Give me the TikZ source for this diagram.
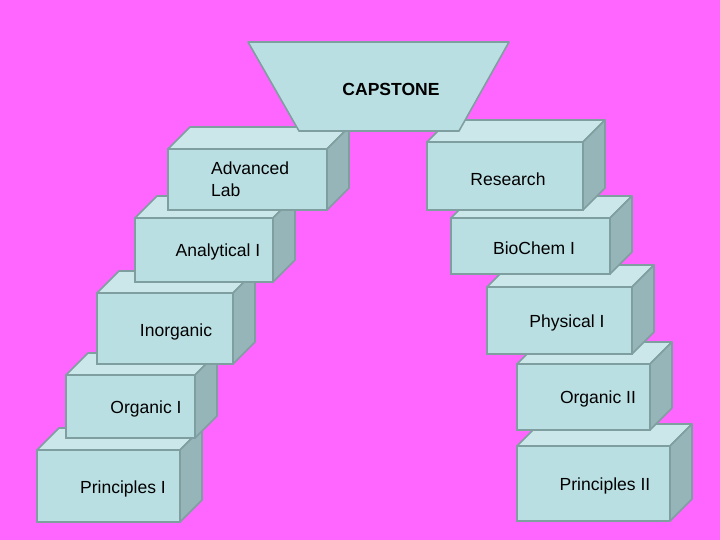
\documentclass[tikz,border=0pt]{standalone}
\usepackage{fontspec}
\setmainfont{Liberation Sans}
\definecolor{bg}{HTML}{FF66FF}
\definecolor{frontc}{HTML}{BADFE3}
\definecolor{topc}{HTML}{CCE7EA}
\definecolor{sidec}{HTML}{95B5B8}
\definecolor{edgec}{HTML}{7E9EA0}
\newcommand\dd{22}
\newcommand\cubebox[5]{%
  \node[frontbox, minimum width=#4bp, minimum height=#5bp, anchor=north west] (#1) at (#2,#3) {};
  \filldraw[topface] (#1.north west) -- ++(\dd,-\dd) -- ++(#4,0) -- (#1.north east) -- cycle;
  \filldraw[sideface] (#1.north east) -- ++(\dd,-\dd) -- ++(0,#5) -- (#1.south east) -- cycle;
  \draw[edgeline] (#1.south west) rectangle (#1.north east);
}
\begin{document}
\begin{tikzpicture}[x=1bp, y=-1bp,
  frontbox/.style={fill=frontc, draw=edgec, line width=1.6bp, inner sep=0pt, outer sep=0pt},
  topface/.style={fill=topc, draw=edgec, line width=1.6bp, line join=round},
  sideface/.style={fill=sidec, draw=edgec, line width=1.6bp, line join=round},
  edgeline/.style={draw=edgec, line width=1.6bp},
  lbl/.style={font=\fontsize{17.6}{22}\selectfont, inner sep=0pt, text=black}]
\useasboundingbox (0,0) rectangle (720,540);
\fill[bg] (0,0) rectangle (720,540);
% left column, bottom to top
\cubebox{p1}{37}{450}{143}{72}
\node[lbl] (p1t) at (123,489) {Principles I};
\cubebox{o1}{66}{375}{129}{63}
\node[lbl] (o1t) at (146,409) {Organic I};
\cubebox{inorg}{97}{293}{136}{71}
\node[lbl] (inorgt) at (176,332) {Inorganic};
\cubebox{an}{135}{218}{138}{64}
\node[lbl] (ant) at (218,252) {Analytical I};
\cubebox{adv}{168}{149}{159}{61}
\node[lbl, anchor=west, align=left] (advt) at (211,179) {Advanced\\Lab};
% right column, bottom to top
\cubebox{p2}{517}{446}{153}{75}
\node[lbl] (p2t) at (605,486) {Principles II};
\cubebox{o2}{517}{364}{133}{66}
\node[lbl] (o2t) at (598,399) {Organic II};
\cubebox{phys}{487}{287}{145}{67}
\node[lbl] (physt) at (567,323) {Physical I};
\cubebox{bio}{451}{218}{159}{56}
\node[lbl] (biot) at (534,248) {BioChem I};
\cubebox{res}{427}{142}{156}{68}
\node[lbl] (rest) at (508,179) {Research};
% capstone
\filldraw[fill=frontc, draw=edgec, line width=1.6bp, line join=round]
  (248,42) -- (509,42) -- (459,131) -- (299,131) -- cycle;
\node[lbl, font=\fontsize{17.6}{22}\selectfont\bfseries] (cap) at (391,89) {CAPSTONE};
\end{tikzpicture}
\end{document}
